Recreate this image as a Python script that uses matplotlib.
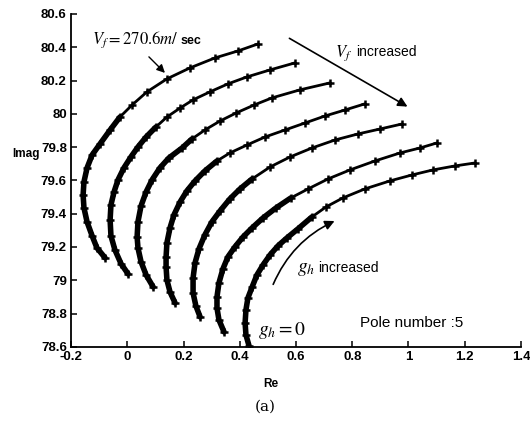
import matplotlib
matplotlib.use('Agg')
import matplotlib.pyplot as plt
from matplotlib.patches import FancyArrowPatch

plt.rcParams['mathtext.fontset'] = 'stix'

# pole loci (real, imag) for each flight speed, g_h rising along each branch
c1_re = [-0.079, -0.108, -0.125, -0.143, -0.154, -0.157, -0.154, -0.143, -0.125, -0.097,
         -0.061, -0.026, 0.017, 0.070, 0.141, 0.223, 0.312, 0.394, 0.465]
c1_im = [79.135, 79.195, 79.267, 79.351, 79.435, 79.513, 79.591, 79.675, 79.753, 79.819,
         79.903, 79.981, 80.053, 80.132, 80.210, 80.276, 80.336, 80.378, 80.420]

c2_re = [0.003, -0.022, -0.044, -0.058, -0.061, -0.058, -0.047, -0.033, -0.012, 0.013,
         0.038, 0.067, 0.102, 0.141, 0.188, 0.234, 0.294, 0.358, 0.426, 0.508, 0.596]
c2_im = [79.038, 79.099, 79.183, 79.267, 79.363, 79.453, 79.531, 79.603, 79.675, 79.741,
         79.801, 79.861, 79.921, 79.981, 80.035, 80.084, 80.132, 80.180, 80.222, 80.264, 80.306]

c3_re = [0.092, 0.067, 0.049, 0.038, 0.035, 0.038, 0.049, 0.067, 0.088, 0.116,
         0.148, 0.195, 0.230, 0.276, 0.330, 0.387, 0.451, 0.515, 0.614, 0.721]
c3_im = [78.960, 79.032, 79.111, 79.195, 79.261, 79.351, 79.447, 79.531, 79.603, 79.675,
         79.735, 79.795, 79.849, 79.903, 79.957, 80.005, 80.053, 80.096, 80.144, 80.186]

c4_re = [0.170, 0.152, 0.141, 0.138, 0.138, 0.141, 0.152, 0.166, 0.188, 0.212,
         0.241, 0.276, 0.319, 0.365, 0.426, 0.490, 0.561, 0.632, 0.703, 0.774, 0.845]
c4_im = [78.864, 78.930, 79.002, 79.081, 79.141, 79.225, 79.315, 79.393, 79.471, 79.537,
         79.597, 79.657, 79.717, 79.765, 79.813, 79.861, 79.903, 79.945, 79.987, 80.023, 80.060]

c5_re = [0.259, 0.244, 0.234, 0.234, 0.241, 0.255, 0.276, 0.301, 0.330, 0.365,
         0.401, 0.444, 0.508, 0.579, 0.657, 0.739, 0.820, 0.899, 0.977]
c5_im = [78.780, 78.846, 78.924, 79.014, 79.105, 79.189, 79.273, 79.351, 79.417, 79.489,
         79.549, 79.609, 79.681, 79.741, 79.795, 79.843, 79.879, 79.909, 79.939]

c6_re = [0.344, 0.326, 0.319, 0.319, 0.326, 0.340, 0.358, 0.383, 0.412, 0.444,
         0.483, 0.529, 0.582, 0.643, 0.714, 0.792, 0.881, 0.970, 1.041, 1.101]
c6_im = [78.690, 78.762, 78.834, 78.900, 78.984, 79.068, 79.141, 79.201, 79.261, 79.315,
         79.375, 79.435, 79.495, 79.549, 79.609, 79.663, 79.717, 79.765, 79.795, 79.825]

c7_re = [0.433, 0.422, 0.419, 0.422, 0.429, 0.444, 0.461, 0.483, 0.508, 0.536,
         0.568, 0.607, 0.657, 0.707, 0.767, 0.845, 0.934, 1.013, 1.087, 1.165, 1.237]
c7_im = [78.606, 78.672, 78.744, 78.822, 78.894, 78.960, 79.032, 79.093, 79.153, 79.207,
         79.255, 79.309, 79.381, 79.441, 79.495, 79.549, 79.597, 79.633, 79.663, 79.687, 79.705]

loci = [(c1_re, c1_im), (c2_re, c2_im), (c3_re, c3_im), (c4_re, c4_im),
        (c5_re, c5_im), (c6_re, c6_im), (c7_re, c7_im)]

x_ticks = [-0.2, 0, 0.2, 0.4, 0.6, 0.8, 1, 1.2, 1.4]
y_ticks = [78.6, 78.8, 79, 79.2, 79.4, 79.6, 79.8, 80, 80.2, 80.4, 80.6]

fig = plt.figure(figsize=(5.3, 4.23), dpi=100)
ax = fig.add_axes([0.134, 0.18, 0.849, 0.787])

for re, im in loci:
    # heavy band where the points crowd together, lighter line with crosses further up
    n = len(re) * 3 // 5
    ax.plot(re[:n + 1], im[:n + 1], color='black', lw=4.0, solid_capstyle='round')
    ax.plot(re, im, color='black', lw=2.0, marker='+', ms=6, mew=1.8,
            solid_capstyle='round')

ax.set_xlim(-0.2, 1.4)
ax.set_ylim(78.6, 80.6)
ax.set_xticks(x_ticks)
ax.set_yticks(y_ticks)
ax.set_xticklabels(['%g' % v for v in x_ticks])
ax.set_yticklabels(['%g' % v for v in y_ticks])
ax.tick_params(direction='in', length=4, width=1.1, labelsize=9.5, pad=3)
for lbl in ax.get_xticklabels() + ax.get_yticklabels():
    lbl.set_fontfamily('Liberation Sans')
    lbl.set_fontweight('bold')

for side in ['top', 'right']:
    ax.spines[side].set_visible(False)
for side in ['left', 'bottom']:
    ax.spines[side].set_linewidth(1.3)

ax.set_ylabel('Imag', rotation=0, fontsize=8.5, fontweight='bold',
              fontfamily='Liberation Sans', labelpad=4)
ax.yaxis.set_label_coords(-0.1, 0.56)
ax.set_xlabel('Re', fontsize=8.5, fontweight='bold', fontfamily='Liberation Sans')
ax.xaxis.set_label_coords(0.445, -0.095)

# annotations
ax.text(-0.125, 80.42, r'$V_f = 270.6m/$', fontsize=12,
        va='baseline', ha='left')
ax.text(0.19, 80.42, 'sec', fontsize=9, fontweight='bold',
        family='Liberation Sans', va='baseline', ha='left')
ax.annotate('', xy=(0.141, 80.234), xytext=(0.070, 80.354),
            arrowprops=dict(arrowstyle='-|>', color='black', lw=1.0,
                            mutation_scale=12))

ax.annotate('', xy=(1.005, 80.035), xytext=(0.568, 80.462),
            arrowprops=dict(arrowstyle='-|>', color='black', lw=1.2,
                            mutation_scale=14))
ax.text(0.739, 80.345, r'$V_f$', fontsize=12, va='baseline', ha='left')
ax.text(0.815, 80.345, 'increased', fontsize=10, va='baseline', ha='left',
        family='Liberation Sans')

arr = FancyArrowPatch((0.515, 78.96), (0.746, 79.363),
                      connectionstyle='arc3,rad=-0.2', arrowstyle='-|>',
                      mutation_scale=14, color='black', lw=1.2)
ax.add_patch(arr)
ax.text(0.604, 79.05, r'$g_h$', fontsize=14, va='baseline', ha='left')
ax.text(0.68, 79.05, 'increased', fontsize=10, va='baseline', ha='left',
        family='Liberation Sans')

ax.text(0.465, 78.67, r'$g_h = 0$', fontsize=14, va='baseline', ha='left')
ax.text(0.828, 78.72, 'Pole number :5', fontsize=11, va='baseline', ha='left',
        family='Liberation Sans')

fig.text(0.5, 0.03, '(a)', fontsize=11, family='DejaVu Serif', ha='center')

fig.savefig('out.png', dpi=100)
